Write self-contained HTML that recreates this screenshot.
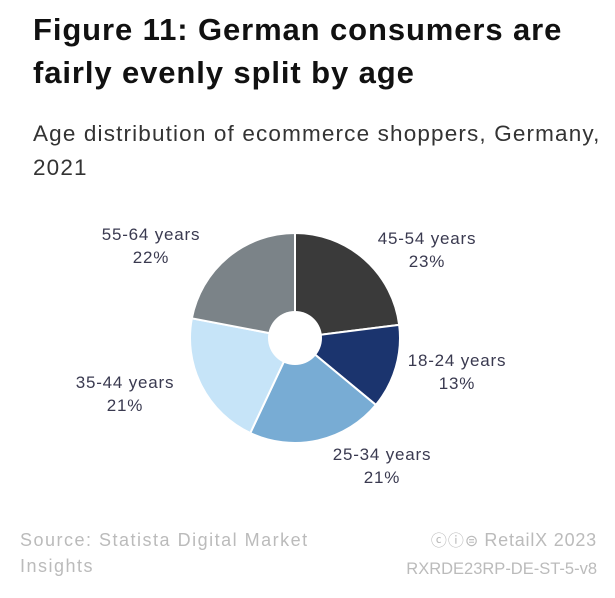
<!DOCTYPE html>
<html><head><meta charset="utf-8"><style>
body{margin:0;width:615px;height:598px;background:#fff;font-family:"Liberation Sans",sans-serif;overflow:hidden;position:relative}
.t{position:absolute;left:33px;top:8px;font-size:31px;font-weight:bold;color:#111;line-height:43px;letter-spacing:0.9px}
.s{position:absolute;left:33px;top:117px;font-size:22.5px;color:#333;line-height:34px;letter-spacing:1.15px}
.f{position:absolute;font-size:18px;color:#bbb;line-height:26px}
</style></head><body>
<div class="t">Figure 11: German consumers are<br>fairly evenly split by age</div>
<div class="s">Age distribution of ecommerce shoppers, Germany,<br>2021</div>
<svg id="c" width="615" height="598" style="position:absolute;left:0;top:0"></svg>
<div class="f" style="left:20px;top:527px;letter-spacing:1.5px">Source: Statista Digital Market<br>Insights</div>
<div class="f" style="right:18px;top:527px;text-align:right"><span style="font-size:16px;letter-spacing:1px">ⓒⓘ⊜</span> <span style="letter-spacing:0.8px">RetailX 2023</span><br><span style="font-size:16.5px">RXRDE23RP-DE-ST-5-v8</span></div>
<script>
const categories=["45-54 years","18-24 years","25-34 years","35-44 years","55-64 years"];
const values=[23,13,21,21,22];
const colors=["#3a3a3a","#1b346e","#78acd4","#c6e4f8","#7b8388"];
const labelPos=[[427,244],[457,366],[382,460],[125,388],[151,240]];
const svg=document.getElementById('c');
const NS="http://www.w3.org/2000/svg";
const cx=295,cy=338,R=105,r=27;
const total=values.reduce((a,b)=>a+b,0);
let a0=-Math.PI/2;
function pt(a,rad){return [cx+rad*Math.cos(a),cy+rad*Math.sin(a)];}
values.forEach((v,i)=>{
 const a1=a0+v/total*2*Math.PI;
 const [x0,y0]=pt(a0,R),[x1,y1]=pt(a1,R);
 const lg=(a1-a0)>Math.PI?1:0;
 const p=document.createElementNS(NS,'path');
 p.setAttribute('d',`M${cx},${cy}L${x0},${y0}A${R},${R} 0 ${lg} 1 ${x1},${y1}Z`);
 p.setAttribute('fill',colors[i]);p.setAttribute('stroke','#fff');p.setAttribute('stroke-width','2');
 
 
 svg.appendChild(p);
 const t=document.createElementNS(NS,'text');
 t.setAttribute('x',labelPos[i][0]);t.setAttribute('y',labelPos[i][1]);
 t.setAttribute('text-anchor','middle');t.setAttribute('font-size','17');t.setAttribute('fill','#3a3a50');
 t.setAttribute('letter-spacing','0.8');
 t.setAttribute('font-family','Liberation Sans, sans-serif');
 
 
 t.innerHTML=`<tspan x="${labelPos[i][0]}">${categories[i]}</tspan><tspan x="${labelPos[i][0]}" dy="23">${v}%</tspan>`;
 svg.appendChild(t);
 a0=a1;
});
const h=document.createElementNS(NS,'circle');
h.setAttribute('cx',cx);h.setAttribute('cy',cy);h.setAttribute('r',r);h.setAttribute('fill','#fff');


svg.appendChild(h);
</script>
</body></html>
